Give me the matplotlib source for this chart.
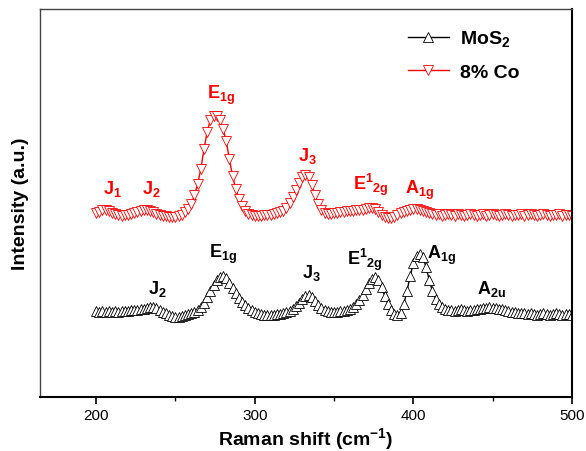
import numpy as np
import matplotlib
matplotlib.use("Agg")
import matplotlib.pyplot as plt
from matplotlib.ticker import MultipleLocator

plt.rcParams['font.family'] = ['Liberation Sans', 'DejaVu Sans']
plt.rcParams['mathtext.fontset'] = 'custom'
plt.rcParams['mathtext.rm'] = 'Liberation Sans'
plt.rcParams['mathtext.bf'] = 'Liberation Sans:bold'
plt.rcParams['mathtext.it'] = 'Liberation Sans:italic'

# Raman shift (cm-1), sampled every 2 cm-1
shift = np.arange(200, 501, 2)

# 8% Co doped (offset upward), intensity a.u.
co8 = [184, 185, 187, 187, 186, 184, 183, 182, 181, 182,
       182, 183, 184, 185, 186, 187, 187, 186, 185, 183,
       182, 181, 181, 180, 180, 180, 181, 182, 185, 188,
       193, 202, 213, 228, 248, 265, 277, 281, 281, 277,
       268, 256, 238, 221, 208, 198, 191, 186, 183, 182,
       181, 181, 181, 182, 182, 182, 183, 184, 185, 186,
       189, 194, 200, 207, 214, 220, 222, 220, 212, 202,
       193, 187, 184, 183, 183, 184, 184, 185, 185, 186,
       186, 186, 187, 187, 187, 188, 189, 189, 188, 185,
       182, 180, 179, 179, 180, 182, 184, 185, 186, 187,
       188, 188, 187, 186, 185, 184, 183, 182, 183, 181,
       182, 183, 182, 181, 183, 182, 181, 182, 183, 182,
       181, 182, 183, 181, 182, 183, 182, 181, 182, 183,
       182, 181, 182, 182, 183, 181, 182, 183, 182, 181,
       182, 183, 182, 181, 182, 182, 183, 181, 182, 182,
       181]

# pure MoS2, intensity a.u.
mos2 = [86, 85, 86, 85, 86, 85, 86, 85, 86, 86,
        86, 87, 87, 87, 88, 88, 89, 90, 90, 89,
        87, 85, 84, 82, 81, 80, 80, 81, 82, 83,
        84, 85, 87, 90, 94, 100, 106, 112, 117, 120,
        121, 119, 114, 109, 104, 99, 95, 92, 89, 87,
        85, 84, 83, 82, 82, 82, 82, 83, 83, 84,
        85, 86, 88, 91, 94, 98, 101, 102, 100, 96,
        92, 89, 87, 86, 85, 85, 85, 86, 86, 87,
        88, 90, 93, 97, 102, 108, 114, 118, 120, 117,
        110, 101, 93, 87, 83, 82, 84, 93, 106, 121,
        134, 141, 143, 140, 130, 117, 106, 98, 93, 90,
        88, 87, 87, 86, 87, 88, 87, 86, 87, 87,
        88, 88, 89, 89, 90, 89, 89, 88, 88, 87,
        86, 85, 85, 84, 84, 84, 83, 84, 83, 82,
        83, 84, 83, 82, 83, 84, 83, 82, 83, 83,
        82]

series_labels = [r'$\mathbf{MoS_2}$', '8% Co']

red_peaks = [r'$\mathbf{J_1}$', r'$\mathbf{J_2}$', r'$\mathbf{E_{1g}}$',
             r'$\mathbf{J_3}$', r'$\mathbf{E^1{}_{2g}}$', r'$\mathbf{A_{1g}}$']
red_peak_x = [210, 235, 278.5, 333, 373.5, 404]
red_peak_y = [209, 209, 303, 242, 213, 208]

black_peaks = [r'$\mathbf{J_2}$', r'$\mathbf{E_{1g}}$', r'$\mathbf{J_3}$',
               r'$\mathbf{E^1{}_{2g}}$', r'$\mathbf{A_{1g}}$', r'$\mathbf{A_{2u}}$']
black_peak_x = [238.6, 280, 336, 369.6, 418, 449]
black_peak_y = [109, 144, 125, 138, 143, 109]

fig = plt.figure(figsize=(5.86, 4.52), dpi=100)
ax = fig.add_axes([0.068, 0.1195, 0.908, 0.8585])

ax.plot(shift, mos2, color='black', lw=1.0, marker='^', markersize=7.5,
        markerfacecolor='white', markeredgecolor='black', markeredgewidth=0.6,
        label=series_labels[0])
ax.plot(shift, co8, color='red', lw=1.0, marker='v', markersize=7.5,
        markerfacecolor='white', markeredgecolor='red', markeredgewidth=0.6,
        label=series_labels[1])

for t, x, y in zip(red_peaks, red_peak_x, red_peak_y):
    ax.text(x, y, t, color='red', fontsize=13, ha='center', va='center')
for t, x, y in zip(black_peaks, black_peak_x, black_peak_y):
    ax.text(x, y, t, color='black', fontsize=13, ha='center', va='center')

ax.set_xlim(164.5, 500)
ax.set_ylim(0, 388)
ax.set_yticks([])
ax.xaxis.set_major_locator(MultipleLocator(100))
ax.xaxis.set_minor_locator(MultipleLocator(50))
ax.tick_params(axis='x', which='major', direction='out', length=5, width=1.2,
               labelsize=11, pad=3)
ax.tick_params(axis='x', which='minor', direction='out', length=3, width=1.0)
ax.tick_params(axis='x', top=False)
for s in ['bottom', 'right']:
    ax.spines[s].set_linewidth(1.5)
for s in ['top', 'left']:
    ax.spines[s].set_linewidth(1.0)
    ax.spines[s].set_color('#444444')

ax.set_xlabel(r'Raman shift (cm$^{\mathbf{-1}}$)', fontsize=14, fontweight='bold',
              labelpad=2)
ax.set_ylabel('Intensity (a.u.)', fontsize=14, fontweight='bold', labelpad=8)

leg = ax.legend(loc='upper right', bbox_to_anchor=(0.935, 0.995), frameon=False,
                handlelength=2.1, handletextpad=0.6,
                labelspacing=0.75, prop={'weight': 'bold', 'size': 14})

fig.savefig('out.png', dpi=100)
